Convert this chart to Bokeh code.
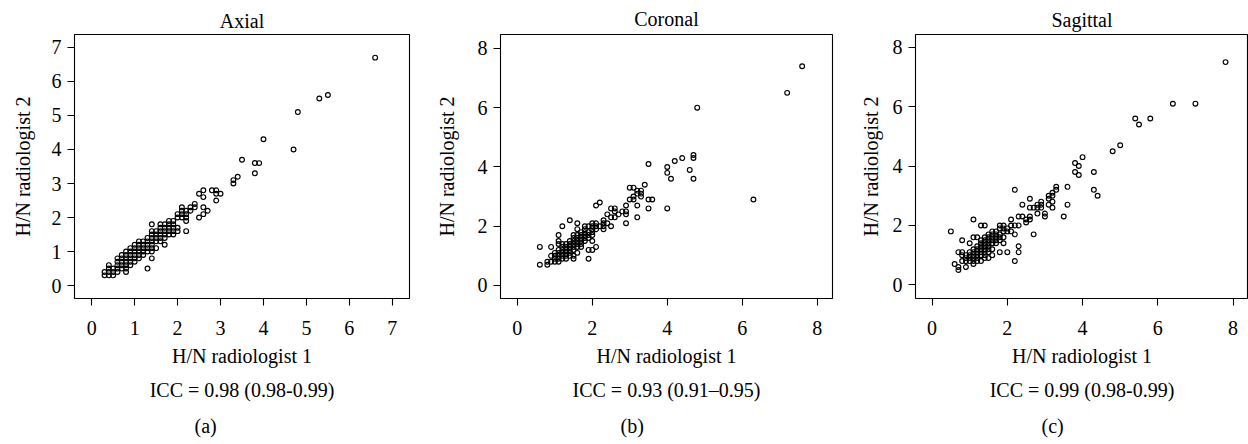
from bokeh.plotting import figure
from bokeh.models import Range1d, FixedTicker, Title
from bokeh.layouts import row
from bokeh.embed import file_html
from bokeh.resources import INLINE

# ---------------- data (H/N ratio, radiologist 1 vs radiologist 2) ----------------
axial_r1 = [
    0.3, 0.3,
    0.4, 0.4, 0.4, 0.4,
    0.5, 0.5, 0.5,
    0.6, 0.6, 0.6, 0.6, 0.6,
    0.7, 0.7, 0.7, 0.7, 0.7,
    0.8, 0.8, 0.8, 0.8, 0.8, 0.8, 0.8,
    0.9, 0.9, 0.9, 0.9, 0.9, 0.9,
    1.0, 1.0, 1.0, 1.0, 1.0, 1.0,
    1.1, 1.1, 1.1, 1.1, 1.1, 1.1,
    1.2, 1.2, 1.2, 1.2, 1.2,
    1.3, 1.3, 1.3, 1.3, 1.3, 1.3,
    1.4, 1.4, 1.4, 1.4, 1.4, 1.4, 1.4, 1.4, 1.4,
    1.5, 1.5, 1.5, 1.5, 1.5,
    1.6, 1.6, 1.6, 1.6, 1.6, 1.6,
    1.7, 1.7, 1.7, 1.7, 1.7, 1.7,
    1.8, 1.8, 1.8, 1.8, 1.8,
    1.9, 1.9, 1.9, 1.9, 1.9,
    2.0, 2.0, 2.0, 2.0,
    2.1, 2.1, 2.1, 2.1,
    2.2, 2.2, 2.2, 2.2, 2.2,
    2.3, 2.3,
    2.4, 2.4,
    2.5, 2.5,
    2.6, 2.6, 2.6, 2.6,
    2.7,
    2.8,
    2.9, 2.9, 2.9,
    3.0,
    3.3, 3.3,
    3.4,
    3.5,
    3.8, 3.8,
    3.9,
    4.0,
    4.7,
    4.8,
    5.3,
    5.5,
    6.6,
]
axial_r2 = [
    0.3, 0.4,
    0.3, 0.4, 0.5, 0.6,
    0.3, 0.4, 0.5,
    0.4, 0.5, 0.6, 0.7, 0.8,
    0.5, 0.6, 0.7, 0.8, 0.9,
    0.4, 0.5, 0.6, 0.7, 0.8, 0.9, 1.0,
    0.6, 0.7, 0.8, 0.9, 1.0, 1.1,
    0.7, 0.8, 0.9, 1.0, 1.1, 1.2,
    0.8, 0.9, 1.0, 1.1, 1.2, 1.3,
    0.9, 1.0, 1.1, 1.2, 1.3,
    0.5, 1.0, 1.1, 1.2, 1.3, 1.4,
    0.8, 1.0, 1.1, 1.2, 1.3, 1.4, 1.5, 1.6, 1.8,
    1.1, 1.3, 1.4, 1.5, 1.6,
    1.3, 1.4, 1.5, 1.6, 1.7, 1.8,
    1.2, 1.4, 1.5, 1.6, 1.7, 1.8,
    1.5, 1.6, 1.7, 1.8, 1.9,
    1.5, 1.6, 1.7, 1.8, 1.9,
    1.6, 1.7, 2.0, 2.1,
    2.0, 2.1, 2.2, 2.3,
    1.6, 1.9, 2.0, 2.1, 2.2,
    2.2, 2.3,
    2.3, 2.4,
    2.0, 2.7,
    2.1, 2.3, 2.6, 2.8,
    2.2,
    2.8,
    2.5, 2.7, 2.8,
    2.7,
    3.0, 3.1,
    3.2,
    3.7,
    3.3, 3.6,
    3.6,
    4.3,
    4.0,
    5.1,
    5.5,
    5.6,
    6.7,
]

coronal_r1 = [
    0.6, 0.6,
    0.8, 0.8,
    0.9, 0.9, 0.9,
    1.0, 1.0, 1.0, 1.0,
    1.1, 1.1, 1.1, 1.1, 1.1, 1.1, 1.1, 1.1,
    1.2, 1.2, 1.2, 1.2, 1.2, 1.2, 1.2,
    1.3, 1.3, 1.3, 1.3, 1.3, 1.3,
    1.4, 1.4, 1.4, 1.4, 1.4, 1.4, 1.4,
    1.5, 1.5, 1.5, 1.5, 1.5, 1.5, 1.5, 1.5,
    1.6, 1.6, 1.6, 1.6, 1.6, 1.6, 1.6, 1.6,
    1.7, 1.7, 1.7, 1.7, 1.7, 1.7,
    1.8, 1.8, 1.8, 1.8, 1.8, 1.8,
    1.9, 1.9, 1.9, 1.9, 1.9, 1.9,
    2.0, 2.0, 2.0, 2.0, 2.0, 2.0, 2.0,
    2.1, 2.1, 2.1, 2.1, 2.1,
    2.2, 2.2,
    2.3, 2.3, 2.3, 2.3,
    2.4, 2.4,
    2.5, 2.5, 2.5,
    2.6, 2.6, 2.6,
    2.7,
    2.8,
    2.9, 2.9, 2.9, 2.9,
    3.0, 3.0,
    3.1, 3.1, 3.1,
    3.2, 3.2, 3.2, 3.2,
    3.3, 3.3, 3.3,
    3.4,
    3.5, 3.5, 3.5,
    3.6,
    4.0, 4.0, 4.0,
    4.1,
    4.2,
    4.4,
    4.6,
    4.7, 4.7, 4.7,
    4.8,
    6.3,
    7.2,
    7.6,
]
coronal_r2 = [
    0.7, 1.3,
    0.7, 0.8,
    0.8, 1.0, 1.3,
    0.8, 0.9, 1.0, 1.1,
    0.8, 0.9, 1.0, 1.1, 1.2, 1.4, 1.5, 1.7,
    0.9, 1.0, 1.1, 1.2, 1.3, 1.4, 2.0,
    0.9, 1.0, 1.1, 1.2, 1.3, 1.4,
    1.0, 1.1, 1.2, 1.3, 1.4, 1.5, 2.2,
    0.9, 1.0, 1.2, 1.3, 1.4, 1.5, 1.6, 1.7,
    1.1, 1.3, 1.4, 1.5, 1.6, 1.7, 1.9, 2.1,
    1.3, 1.4, 1.5, 1.6, 1.7, 1.8,
    1.5, 1.6, 1.7, 1.8, 1.9, 2.0,
    0.9, 1.2, 1.6, 1.7, 1.8, 2.0,
    1.2, 1.5, 1.7, 1.8, 1.9, 2.0, 2.1,
    1.3, 1.9, 2.0, 2.1, 2.7,
    2.0, 2.8,
    1.9, 2.0, 2.1, 2.2,
    2.1, 2.4,
    2.0, 2.3, 2.6,
    2.3, 2.5, 2.6,
    2.4,
    2.5,
    2.1, 2.4, 2.5, 2.7,
    2.9, 3.3,
    2.9, 3.0, 3.3,
    2.3, 2.7, 3.1, 3.2,
    3.0, 3.1, 3.2,
    3.4,
    2.6, 2.9, 4.1,
    2.9,
    2.6, 3.8, 4.0,
    3.6,
    4.2,
    4.3,
    3.9,
    3.6, 4.3, 4.4,
    6.0,
    2.9,
    6.5,
    7.4,
]

sagittal_r1 = [
    0.5,
    0.6,
    0.7, 0.7, 0.7,
    0.8, 0.8, 0.8, 0.8,
    0.9, 0.9, 0.9, 0.9,
    1.0, 1.0, 1.0, 1.0, 1.0,
    1.1, 1.1, 1.1, 1.1, 1.1, 1.1, 1.1, 1.1,
    1.2, 1.2, 1.2, 1.2, 1.2, 1.2, 1.2,
    1.3, 1.3, 1.3, 1.3, 1.3, 1.3, 1.3, 1.3,
    1.4, 1.4, 1.4, 1.4, 1.4, 1.4, 1.4, 1.4, 1.4,
    1.5, 1.5, 1.5, 1.5, 1.5, 1.5, 1.5, 1.5,
    1.6, 1.6, 1.6, 1.6, 1.6, 1.6, 1.6,
    1.7, 1.7, 1.7, 1.7, 1.7,
    1.8, 1.8, 1.8, 1.8, 1.8, 1.8,
    1.9, 1.9, 1.9, 1.9, 1.9,
    2.0, 2.0, 2.0,
    2.1, 2.1, 2.1,
    2.2, 2.2, 2.2, 2.2,
    2.3, 2.3, 2.3, 2.3,
    2.4, 2.4,
    2.5, 2.5,
    2.6, 2.6, 2.6, 2.6,
    2.7, 2.7,
    2.8, 2.8, 2.8,
    2.9, 2.9, 2.9,
    3.0, 3.0,
    3.1, 3.1, 3.1,
    3.2, 3.2, 3.2, 3.2,
    3.3, 3.3,
    3.5,
    3.6, 3.6,
    3.8, 3.8,
    3.9, 3.9,
    4.0,
    4.3, 4.3,
    4.4,
    4.8,
    5.0,
    5.4,
    5.5,
    5.8,
    6.4,
    7.0,
    7.8,
]
sagittal_r2 = [
    1.8,
    0.7,
    0.5, 0.6, 1.1,
    0.8, 1.0, 1.1, 1.5,
    0.6, 0.8, 0.9, 1.0,
    0.8, 0.9, 1.0, 1.1, 1.4,
    0.7, 0.8, 0.9, 1.0, 1.1, 1.2, 1.6, 2.2,
    0.8, 0.9, 1.0, 1.1, 1.2, 1.3, 1.6,
    0.8, 1.0, 1.1, 1.2, 1.3, 1.4, 1.5, 2.0,
    0.9, 1.0, 1.1, 1.2, 1.3, 1.4, 1.5, 1.6, 2.0,
    0.9, 1.1, 1.2, 1.3, 1.4, 1.5, 1.6, 1.7,
    1.0, 1.2, 1.4, 1.5, 1.6, 1.7, 1.8,
    1.4, 1.5, 1.6, 1.7, 1.8,
    1.1, 1.5, 1.6, 1.7, 1.9, 2.0,
    1.4, 1.6, 1.8, 1.9, 2.0,
    1.1, 1.8, 1.9,
    1.8, 2.0, 2.2,
    0.8, 1.7, 2.0, 3.2,
    1.1, 1.3, 2.0, 2.3,
    2.3, 2.7,
    2.1, 2.2,
    2.2, 2.3, 2.6, 2.9,
    1.7, 2.6,
    2.4, 2.6, 2.7,
    2.6, 2.7, 2.8,
    2.3, 2.4,
    2.7, 2.9, 3.0,
    2.6, 2.8, 3.0, 3.1,
    3.2, 3.3,
    2.3,
    2.7, 3.3,
    3.8, 4.1,
    3.7, 4.0,
    4.3,
    3.2, 3.8,
    3.0,
    4.5,
    4.7,
    5.6,
    5.4,
    5.6,
    6.1,
    6.1,
    7.5,
]

panel_titles = ["Axial", "Coronal", "Sagittal"]
x_label = "H/N radiologist 1"
y_label = "H/N radiologist 2"
icc_texts = ["ICC = 0.98 (0.98-0.99)", "ICC = 0.93 (0.91\u20130.95)", "ICC = 0.99 (0.98-0.99)"]
sub_labels = ["(a)", "(b)", "(c)"]
axial_ticks = [0, 1, 2, 3, 4, 5, 6, 7]
wide_ticks = [0, 2, 4, 6, 8]

# ---------------- layout / styling ----------------
FONT = "Liberation Serif"
FS = "20px"
H = 444


def make_panel(r1, r2, xr, yr, ticks, title, icc, sub, sub_offset,
               width, bl, br, bt, bb, ylab_standoff, title_standoff):
    p = figure(width=width, height=H, x_range=Range1d(*xr), y_range=Range1d(*yr),
               output_backend="svg", toolbar_location=None,
               min_border_left=bl, min_border_right=br,
               min_border_top=bt, min_border_bottom=bb)
    p.title.text = title
    p.title.align = "center"
    p.title.text_font = FONT
    p.title.text_font_size = FS
    p.title.text_font_style = "normal"
    p.title.text_color = "black"
    p.title.standoff = title_standoff
    p.background_fill_color = "white"
    p.border_fill_color = "white"
    p.outline_line_color = "black"
    p.outline_line_width = 1.1
    p.xgrid.visible = False
    p.ygrid.visible = False
    for ax in (p.xaxis[0], p.yaxis[0]):
        ax.ticker = FixedTicker(ticks=ticks)
        ax.axis_line_color = None
        ax.major_tick_out = 7
        ax.major_tick_in = 0
        ax.minor_tick_out = 0
        ax.minor_tick_in = 0
        ax.major_tick_line_color = "black"
        ax.major_tick_line_width = 1.1
        ax.major_label_text_font = FONT
        ax.major_label_text_font_size = FS
        ax.major_label_text_color = "black"
        ax.axis_label_text_font = FONT
        ax.axis_label_text_font_size = FS
        ax.axis_label_text_font_style = "normal"
        ax.axis_label_text_color = "black"
    p.xaxis[0].axis_label = x_label
    p.yaxis[0].axis_label = y_label
    p.xaxis[0].major_label_standoff = 15
    p.yaxis[0].major_label_standoff = 6
    p.xaxis[0].axis_label_standoff = 7
    p.yaxis[0].axis_label_standoff = ylab_standoff

    p.add_layout(Title(text=icc, align="center", text_font=FONT, text_font_size=FS,
                       text_font_style="normal", text_color="black", standoff=14), "below")
    p.add_layout(Title(text=sub, align="left", offset=sub_offset, text_font=FONT,
                       text_font_size=FS, text_font_style="normal", text_color="black",
                       standoff=11), "below")

    p.scatter(r1, r2, marker="circle", size=4.8, fill_color=None,
              line_color="black", line_width=1.15)
    return p


pa = make_panel(axial_r1, axial_r2, (-0.40, 7.40), (-0.38, 7.38), axial_ticks,
                panel_titles[0], icc_texts[0], sub_labels[0], 120,
                432, 74, 23, 31, 146, 15, 5)

pb = make_panel(coronal_r1, coronal_r2, (-0.45, 8.41), (-0.44, 8.47), wide_ticks,
                panel_titles[1], icc_texts[1], sub_labels[1], 120,
                408, 67, 8, 34, 141, 17, 10)

pc = make_panel(sagittal_r1, sagittal_r2, (-0.44, 8.41), (-0.46, 8.43), wide_ticks,
                panel_titles[2], icc_texts[2], sub_labels[2], 126,
                408, 75, 0, 33, 143, 8, 8)

layout = row(pa, pb, pc, spacing=0)
open("out.html", "w").write(file_html(layout, INLINE))
